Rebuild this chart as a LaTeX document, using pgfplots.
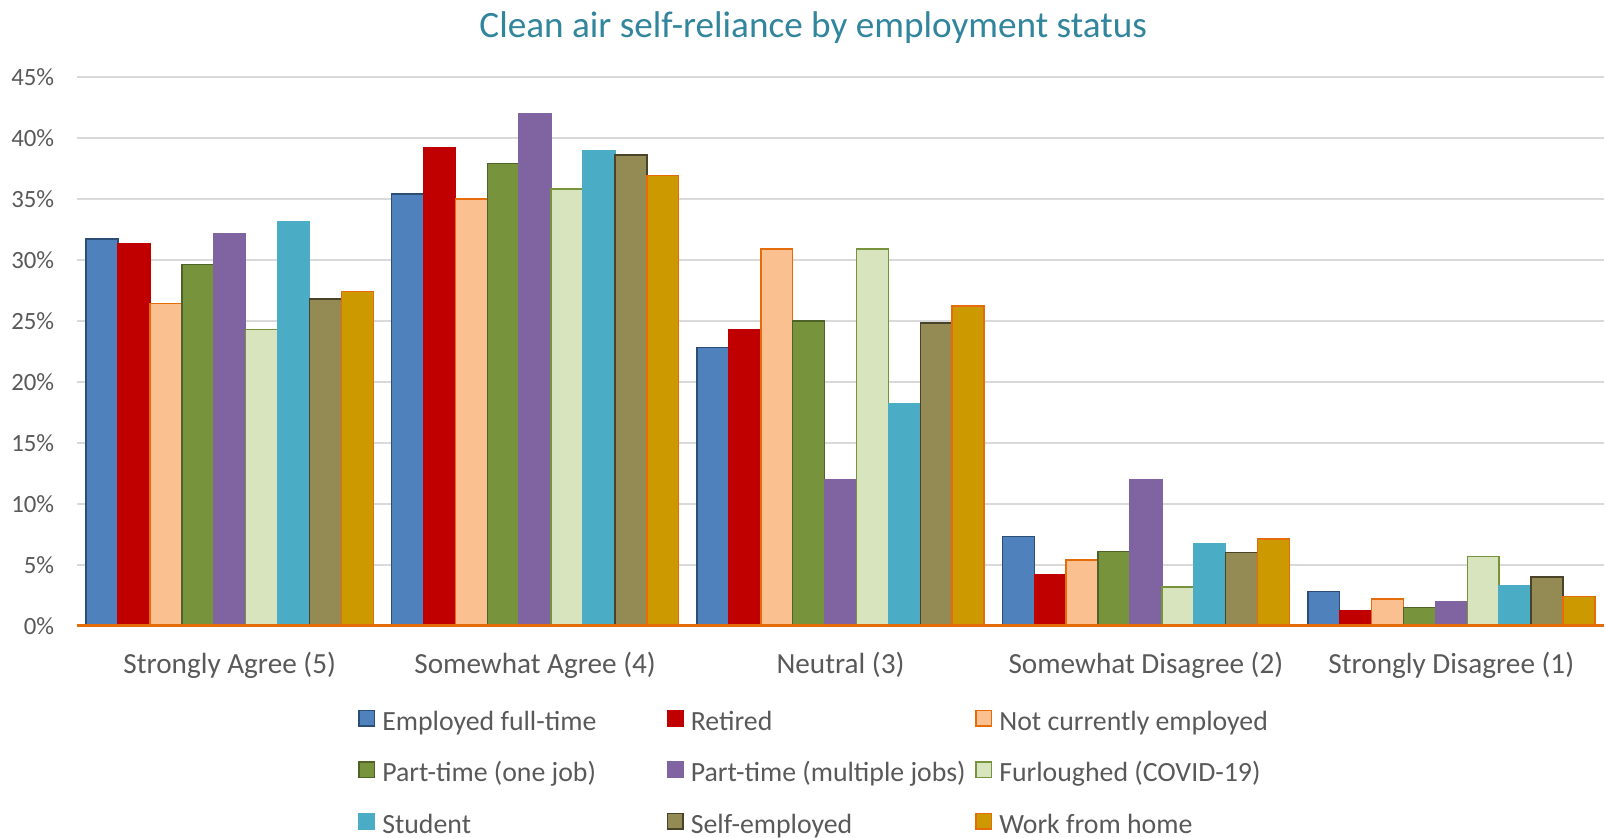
\documentclass[border=0pt]{standalone}
\usepackage{pgfplots}
\pgfplotsset{compat=1.18}
\usepackage{fontspec}
\setmainfont{Carlito}
\definecolor{txt}{HTML}{595959}
\definecolor{ttl}{HTML}{31859C}
\definecolor{gridc}{HTML}{D9D9D9}
\definecolor{axc}{HTML}{E46C0A}
\definecolor{f1}{HTML}{4F81BD}\definecolor{d1}{HTML}{2C4D75}
\definecolor{f2}{HTML}{C00000}\definecolor{d2}{HTML}{C00000}
\definecolor{f3}{HTML}{FAC090}\definecolor{d3}{HTML}{E46C0A}
\definecolor{f4}{HTML}{77933C}\definecolor{d4}{HTML}{4F6228}
\definecolor{f5}{HTML}{8064A2}\definecolor{d5}{HTML}{8064A2}
\definecolor{f6}{HTML}{D7E4BD}\definecolor{d6}{HTML}{77933C}
\definecolor{f7}{HTML}{4BACC6}\definecolor{d7}{HTML}{4BACC6}
\definecolor{f8}{HTML}{948A54}\definecolor{d8}{HTML}{494429}
\definecolor{f9}{HTML}{CC9900}\definecolor{d9}{HTML}{E46C0A}
\newcommand{\legbox}[1]{\makebox[142.3pt][l]{#1}}
\begin{document}
\begin{tikzpicture}
\path[use as bounding box] (-38.5pt,-106.1pt) rectangle (764.5pt,312.9pt);
\begin{axis}[
  at={(0,0)}, anchor=south west,
  scale only axis, width=763.5pt, height=274.5pt,
  xmin=-0.5, xmax=4.5, ymin=0, ymax=45,
  ybar=0pt, bar width=15.95pt,
  clip=false,
  axis line style={draw=none},
  tick style={draw=none},
  ymajorgrids, grid style={gridc, line width=0.75pt},
  xtick={0,1,2,3,4},
  xticklabels={Strongly Agree (5), Somewhat Agree (4), Neutral (3), Somewhat Disagree (2), Strongly Disagree (1)},
  xticklabel style={anchor=center, yshift=-15.4pt, font=\fontsize{14.6}{17}\selectfont, text=txt},
  ytick={0,5,...,45},
  yticklabel={\pgfmathprintnumber{\tick}\%},
  yticklabel style={anchor=east, inner sep=0pt, xshift=-11.2pt, font=\fontsize{12.4}{14}\selectfont, text=txt},
  /pgf/number format/assume math mode=true,
  title={Clean air self-reliance by employment status},
  title style={at={(0.4821,1)}, anchor=center, yshift=18.4pt, font=\fontsize{18.6}{22}\selectfont, text=ttl},
  legend columns=3,
  legend cell align=left,
  legend image code/.code={\draw[#1] (0pt,-0.85pt) rectangle (7.7pt,6.85pt);},
  legend style={at={(0.1843,0)}, anchor=north west, yshift=-42.1pt,
    draw=none, fill=none, inner sep=0pt, outer sep=0pt,
    font=\fontsize{13.9}{16}\selectfont, text=txt,
    /tikz/every odd column/.append style={column sep=3.5pt},
    row sep=12.5pt,
    nodes={inner sep=0pt, text height=9pt, text depth=3pt}},
  every axis plot/.append style={line width=0.75pt},
]
\addplot[fill=f1, draw=d1] coordinates {(0,31.7) (1,35.4) (2,22.8) (3,7.3) (4,2.8)};
\addplot[fill=f2, draw=d2] coordinates {(0,31.3) (1,39.2) (2,24.3) (3,4.2) (4,1.2)};
\addplot[fill=f3, draw=d3] coordinates {(0,26.4) (1,35.0) (2,30.9) (3,5.4) (4,2.2)};
\addplot[fill=f4, draw=d4] coordinates {(0,29.6) (1,37.9) (2,25.0) (3,6.1) (4,1.5)};
\addplot[fill=f5, draw=d5] coordinates {(0,32.1) (1,42.0) (2,12.0) (3,12.0) (4,2.0)};
\addplot[fill=f6, draw=d6] coordinates {(0,24.3) (1,35.8) (2,30.9) (3,3.2) (4,5.7)};
\addplot[fill=f7, draw=d7] coordinates {(0,33.1) (1,38.9) (2,18.2) (3,6.7) (4,3.3)};
\addplot[fill=f8, draw=d8] coordinates {(0,26.8) (1,38.6) (2,24.8) (3,6.0) (4,4.0)};
\addplot[fill=f9, draw=d9] coordinates {(0,27.4) (1,36.9) (2,26.2) (3,7.1) (4,2.4)};
\legend{\legbox{Employed full-time}, \legbox{Retired}, \legbox{Not currently employed},
        \legbox{Part-time (one job)}, \legbox{Part-time (multiple jobs)}, \legbox{Furloughed (COVID-19)},
        \legbox{Student}, \legbox{Self-employed}, \legbox{Work from home}}
\draw[axc, line width=1.5pt] (rel axis cs:0,0) -- (rel axis cs:1,0);
\end{axis}
\end{tikzpicture}
\end{document}
